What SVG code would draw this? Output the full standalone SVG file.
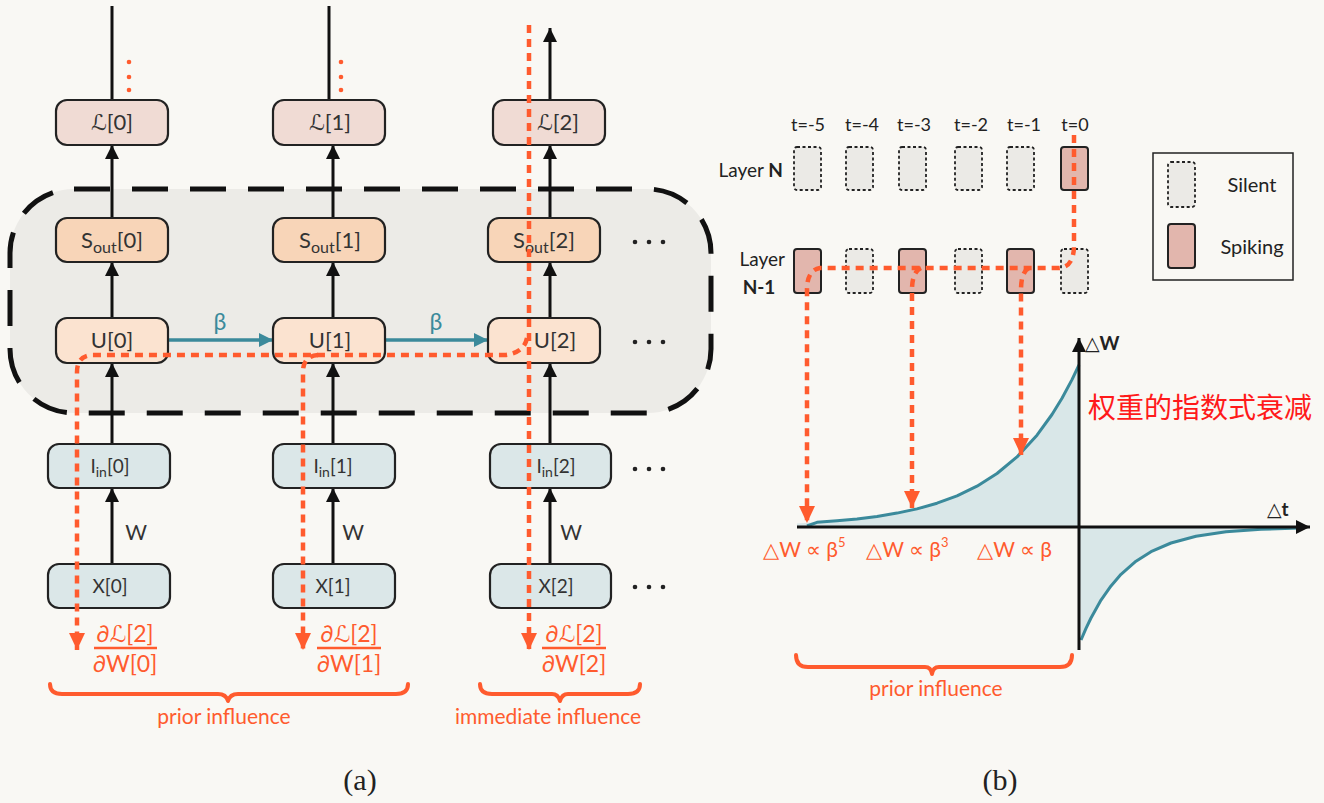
<svg xmlns="http://www.w3.org/2000/svg" width="1324" height="803" viewBox="0 0 1324 803">
<defs>
<marker id="ab" markerUnits="userSpaceOnUse" markerWidth="14" markerHeight="16" refX="14" refY="7" orient="auto"><path d="M0,0 L14,7 L0,14 z" fill="#111"/></marker>
<marker id="at" markerUnits="userSpaceOnUse" markerWidth="14" markerHeight="16" refX="14" refY="7" orient="auto"><path d="M0,0 L14,7 L0,14 z" fill="#3b8a9b"/></marker>
<marker id="ao" markerUnits="userSpaceOnUse" markerWidth="18" markerHeight="16" refX="17" refY="8" orient="auto"><path d="M0,0 L17,8 L0,16 z" fill="#ff5b2e"/></marker>
</defs>
<style>
text{font-family:Lato,"DejaVu Sans","Noto Sans",sans-serif;}
.box{stroke:#222;stroke-width:2.2;}
.L{fill:#f0dbd4;} .S{fill:#f8d5b8;} .U{fill:#fbe3d0;} .B{fill:#dbe7e8;}
.bt{font-size:22px;fill:#333;text-anchor:middle;}
.bs{font-size:19px;fill:#333;text-anchor:middle;}
.ar{stroke:#111;stroke-width:3;fill:none;}
.ta{stroke:#3b8a9b;stroke-width:3.5;fill:none;}
.od{stroke:#ff5b2e;stroke-width:4.5;fill:none;stroke-dasharray:8 6;}
.or{fill:#ff5b2e;}
.ot{fill:#ff5b2e;text-anchor:middle;}
.brace{stroke:#ff5b2e;stroke-width:4;fill:none;stroke-linecap:round;stroke-linejoin:round;}
.dot{fill:#222;}
.sil{fill:#ebeae6;stroke:#222;stroke-width:1.8;stroke-dasharray:3 2.5;}
.spk{fill:#e2b6ad;stroke:#222;stroke-width:2;}
.lab{font-size:18px;fill:#222;}
text.serif{font-family:"Liberation Serif",serif;font-size:30px;fill:#222;text-anchor:middle;}
</style>
<rect width="1324" height="803" fill="#f9f8f4"/>

<!-- panel (a) region -->
<rect id="region" x="10" y="189" width="701" height="224" rx="64" fill="#ecebe7" stroke="#111" stroke-width="5" stroke-dasharray="36 22"/>

<g id="connectors">
  <line class="ar" x1="112" y1="6" x2="112" y2="100"/>
  <line class="ar" x1="329" y1="6" x2="329" y2="100"/>
  <line class="ar" x1="550" y1="100" x2="550" y2="28" marker-end="url(#ab)"/>
  <line class="ar" x1="112" y1="218" x2="112" y2="145" marker-end="url(#ab)"/>
  <line class="ar" x1="112" y1="318" x2="112" y2="262" marker-end="url(#ab)"/>
  <line class="ar" x1="112" y1="444" x2="112" y2="363" marker-end="url(#ab)"/>
  <line class="ar" x1="112" y1="564" x2="112" y2="488" marker-end="url(#ab)"/>
  <line class="ar" x1="333" y1="218" x2="333" y2="145" marker-end="url(#ab)"/>
  <line class="ar" x1="333" y1="318" x2="333" y2="262" marker-end="url(#ab)"/>
  <line class="ar" x1="333" y1="444" x2="333" y2="363" marker-end="url(#ab)"/>
  <line class="ar" x1="333" y1="564" x2="333" y2="488" marker-end="url(#ab)"/>
  <line class="ar" x1="550" y1="218" x2="550" y2="145" marker-end="url(#ab)"/>
  <line class="ar" x1="550" y1="318" x2="550" y2="262" marker-end="url(#ab)"/>
  <line class="ar" x1="550" y1="444" x2="550" y2="363" marker-end="url(#ab)"/>
  <line class="ar" x1="550" y1="564" x2="550" y2="488" marker-end="url(#ab)"/>
  <line class="ta" x1="168" y1="340" x2="273" y2="340" marker-end="url(#at)"/>
  <line class="ta" x1="385" y1="340" x2="488" y2="340" marker-end="url(#at)"/>
</g>

<g id="labels-a">
  <text x="220" y="330" font-size="23" fill="#3b8a9b" text-anchor="middle">β</text>
  <text x="436" y="330" font-size="23" fill="#3b8a9b" text-anchor="middle">β</text>
  <text x="136" y="540" font-size="21" fill="#333" text-anchor="middle">W</text>
  <text x="353" y="540" font-size="21" fill="#333" text-anchor="middle">W</text>
  <text x="571" y="540" font-size="21" fill="#333" text-anchor="middle">W</text>
  <circle class="or" cx="129" cy="62" r="2.3"/><circle class="or" cx="129" cy="77" r="2.3"/><circle class="or" cx="129" cy="90" r="2.3"/>
  <circle class="or" cx="341" cy="62" r="2.3"/><circle class="or" cx="341" cy="77" r="2.3"/><circle class="or" cx="341" cy="90" r="2.3"/>
  <g id="ellipses">
    <circle class="dot" cx="635" cy="242" r="2.3"/><circle class="dot" cx="649" cy="242" r="2.3"/><circle class="dot" cx="663" cy="242" r="2.3"/>
    <circle class="dot" cx="635" cy="342" r="2.3"/><circle class="dot" cx="649" cy="342" r="2.3"/><circle class="dot" cx="663" cy="342" r="2.3"/>
    <circle class="dot" cx="635" cy="469" r="2.3"/><circle class="dot" cx="649" cy="469" r="2.3"/><circle class="dot" cx="663" cy="469" r="2.3"/>
    <circle class="dot" cx="635" cy="587" r="2.3"/><circle class="dot" cx="649" cy="587" r="2.3"/><circle class="dot" cx="663" cy="587" r="2.3"/>
  </g>
</g>

<g id="L0"><rect class="box L" x="56" y="100" width="112" height="45" rx="11"/><text class="bt" x="112" y="130">ℒ[0]</text></g>
<g id="S0"><rect class="box S" x="56" y="218" width="112" height="44" rx="11"/><text class="bt" x="112" y="248">S<tspan font-size="16" dy="5">out</tspan><tspan dy="-5">[0]</tspan></text></g>
<g id="U0"><rect class="box U" x="56" y="318" width="112" height="45" rx="11"/><text class="bt" x="112" y="348">U[0]</text></g>
<g id="I0"><rect class="box B" x="48" y="444" width="122" height="44" rx="11"/><text class="bs" x="110" y="473">I<tspan font-size="14" dy="4">in</tspan><tspan dy="-4">[0]</tspan></text></g>
<g id="X0"><rect class="box B" x="48" y="564" width="122" height="44" rx="11"/><text class="bs" x="110" y="593">X[0]</text></g>
<g id="L1"><rect class="box L" x="273" y="100" width="112" height="45" rx="11"/><text class="bt" x="330" y="130">ℒ[1]</text></g>
<g id="S1"><rect class="box S" x="273" y="218" width="112" height="44" rx="11"/><text class="bt" x="330" y="248">S<tspan font-size="16" dy="5">out</tspan><tspan dy="-5">[1]</tspan></text></g>
<g id="U1"><rect class="box U" x="273" y="318" width="112" height="45" rx="11"/><text class="bt" x="330" y="348">U[1]</text></g>
<g id="I1"><rect class="box B" x="273" y="444" width="122" height="44" rx="11"/><text class="bs" x="333" y="473">I<tspan font-size="14" dy="4">in</tspan><tspan dy="-4">[1]</tspan></text></g>
<g id="X1"><rect class="box B" x="273" y="564" width="122" height="44" rx="11"/><text class="bs" x="333" y="593">X[1]</text></g>
<g id="L2"><rect class="box L" x="493" y="100" width="112" height="45" rx="11"/><text class="bt" x="558" y="130">ℒ[2]</text></g>
<g id="S2"><rect class="box S" x="488" y="218" width="112" height="44" rx="11"/><text class="bt" x="544" y="248">S<tspan font-size="16" dy="5">out</tspan><tspan dy="-5">[2]</tspan></text></g>
<g id="U2"><rect class="box U" x="488" y="318" width="112" height="45" rx="11"/><text class="bt" x="555" y="348">U[2]</text></g>
<g id="I2"><rect class="box B" x="490" y="444" width="121" height="44" rx="11"/><text class="bs" x="556" y="473">I<tspan font-size="14" dy="4">in</tspan><tspan dy="-4">[2]</tspan></text></g>
<g id="X2"><rect class="box B" x="490" y="564" width="121" height="44" rx="11"/><text class="bs" x="556" y="593">X[2]</text></g>

<g id="grad-paths">
  <path class="od" d="M529,25 V650" marker-end="url(#ao)"/>
  <path class="od" d="M527,338 Q524,353 505,355 H92 Q77,356 77,372 V650" marker-end="url(#ao)"/>
  <path class="od" d="M318,355 Q303,356 303,372 V650" marker-end="url(#ao)"/>
</g>

<g id="frac0">
  <text class="ot" x="125" y="642" font-size="23">∂ℒ[2]</text>
  <line x1="94" y1="648" x2="157" y2="648" stroke="#ff5b2e" stroke-width="2.5"/>
  <text class="ot" x="125" y="672" font-size="23">∂W[0]</text>
</g>
<g id="frac1">
  <text class="ot" x="349" y="642" font-size="23">∂ℒ[2]</text>
  <line x1="317" y1="648" x2="381" y2="648" stroke="#ff5b2e" stroke-width="2.5"/>
  <text class="ot" x="349" y="672" font-size="23">∂W[1]</text>
</g>
<g id="frac2">
  <text class="ot" x="574" y="642" font-size="23">∂ℒ[2]</text>
  <line x1="542" y1="648" x2="606" y2="648" stroke="#ff5b2e" stroke-width="2.5"/>
  <text class="ot" x="574" y="672" font-size="23">∂W[2]</text>
</g>

<g id="braces-a">
  <path class="brace" d="M50,684 Q50,694 62,694 H218 Q226,694 228,701 Q230,694 238,694 H396 Q408,694 408,684"/>
  <text class="ot" x="224" y="724" font-size="21">prior influence</text>
  <path class="brace" d="M480,684 Q480,694 492,694 H552 Q558,694 560,701 Q562,694 568,694 H628 Q640,694 640,684"/>
  <text class="ot" x="548" y="724" font-size="21">immediate influence</text>
</g>
<text class="serif" x="360" y="790">(a)</text>

<g id="time-labels">
  <text class="lab" x="808" y="131" text-anchor="middle">t=-5</text>
  <text class="lab" x="862" y="131" text-anchor="middle">t=-4</text>
  <text class="lab" x="914" y="131" text-anchor="middle">t=-3</text>
  <text class="lab" x="971" y="131" text-anchor="middle">t=-2</text>
  <text class="lab" x="1024" y="131" text-anchor="middle">t=-1</text>
  <text class="lab" x="1075" y="131" text-anchor="middle">t=0</text>
</g>
<g id="layerN">
  <text x="783" y="177" font-size="19" fill="#222" text-anchor="end">Layer <tspan font-weight="bold">N</tspan></text>
  <rect class="sil" x="794" y="147" width="27" height="43" rx="3"/>
  <rect class="sil" x="846" y="147" width="27" height="43" rx="3"/>
  <rect class="sil" x="899" y="147" width="27" height="43" rx="3"/>
  <rect class="sil" x="955" y="147" width="27" height="43" rx="3"/>
  <rect class="sil" x="1007" y="147" width="27" height="43" rx="3"/>
  <rect class="spk" x="1061" y="147" width="27" height="43" rx="3"/>
</g>
<g id="layerN1">
  <text x="785" y="266" font-size="19" fill="#222" text-anchor="end">Layer</text>
  <text x="759" y="294" font-size="19" fill="#222" text-anchor="middle" font-weight="bold">N-1</text>
  <rect class="spk" x="794" y="249" width="27" height="44" rx="3"/>
  <rect class="sil" x="846" y="249" width="27" height="44" rx="3"/>
  <rect class="spk" x="899" y="249" width="27" height="44" rx="3"/>
  <rect class="sil" x="955" y="249" width="27" height="44" rx="3"/>
  <rect class="spk" x="1007" y="249" width="27" height="44" rx="3"/>
  <rect class="sil" x="1061" y="249" width="27" height="44" rx="3"/>
</g>
<g id="legend">
  <rect x="1153" y="153" width="140" height="127" fill="none" stroke="#222" stroke-width="1.5"/>
  <rect class="sil" x="1168" y="162" width="27" height="45" rx="3"/>
  <text x="1252" y="192" font-size="20" fill="#222" text-anchor="middle">Silent</text>
  <rect class="spk" x="1168" y="224" width="27" height="44" rx="3"/>
  <text x="1252" y="254" font-size="20" fill="#222" text-anchor="middle">Spiking</text>
</g>

<g id="stdp-plot">
  <path d="M797,527 L797,523.4 L817,522.3 L837,520.8 L857,518.9 L877,516.4 L897,513.1 L917,508.9 L937,503.2 L957,495.8 L977,486.2 L997,473.5 L1017,456.9 L1037,435.2 L1052,414.5 L1062,398.2 L1072,379.6 L1079,365 L1079,527 Z" fill="#d9e7e8"/>
  <path d="M1079,527 L1081,640 L1086,628.4 L1091,618 L1101,600.1 L1111,585.9 L1121,574.3 L1136,561.2 L1151,551.7 L1171,543 L1196,536.3 L1226,531.8 L1261,529.3 L1300,528 L1300,527 Z" fill="#d9e7e8"/>
  <path d="M807,526 L817,522.3 L837,520.8 L857,518.9 L877,516.4 L897,513.1 L917,508.9 L937,503.2 L957,495.8 L977,486.2 L997,473.5 L1017,456.9 L1037,435.2 L1052,414.5 L1062,398.2 L1072,379.6 L1079,365" fill="none" stroke="#3b8a9b" stroke-width="3" stroke-linejoin="round"/>
  <path d="M1081,640 L1086,628.4 L1091,618 L1101,600.1 L1111,585.9 L1121,574.3 L1136,561.2 L1151,551.7 L1171,543 L1196,536.3 L1226,531.8 L1261,529.3 L1300,528" fill="none" stroke="#3b8a9b" stroke-width="3" stroke-linejoin="round"/>
  <line class="ar" x1="797" y1="527" x2="1310" y2="527" stroke-width="3.5" marker-end="url(#ab)"/>
  <line class="ar" x1="1079" y1="650" x2="1079" y2="338" stroke-width="3.5" marker-end="url(#ab)"/>
  <text x="1085" y="350" font-size="19" font-weight="bold" fill="#222">△W</text>
  <text x="1267" y="516" font-size="19" font-weight="bold" fill="#222">△t</text>
</g>

<g id="grad-paths-b">
  <path class="od" d="M1074,135 V245 Q1074,268 1058,268 H820 Q807,270 807,290 V523" marker-end="url(#ao)"/>
  <path class="od" d="M921,268 Q912,272 912,290 V508" marker-end="url(#ao)"/>
  <path class="od" d="M1029,268 Q1021,272 1021,290 V455" marker-end="url(#ao)"/>
</g>

<g id="dw-labels">
  <text x="763" y="557" font-size="21" fill="#ff5b2e">△W ∝ β<tspan font-size="13" dy="-10">5</tspan></text>
  <text x="866" y="557" font-size="21" fill="#ff5b2e">△W ∝ β<tspan font-size="13" dy="-10">3</tspan></text>
  <text x="977" y="557" font-size="21" fill="#ff5b2e">△W ∝ β</text>
</g>
<text x="1088" y="418" font-size="28" fill="#ff1a1a" style="font-family:'Noto Sans CJK SC','Noto Sans CJK JP',sans-serif">权重的指数式衰减</text>

<g id="brace-b">
  <path class="brace" d="M796,655 Q796,667 808,667 H925 Q931,667 932,674 Q933,667 939,667 H1060 Q1072,667 1072,655"/>
  <text class="ot" x="936" y="696" font-size="21">prior influence</text>
</g>
<text class="serif" x="1000" y="790">(b)</text>
</svg>
